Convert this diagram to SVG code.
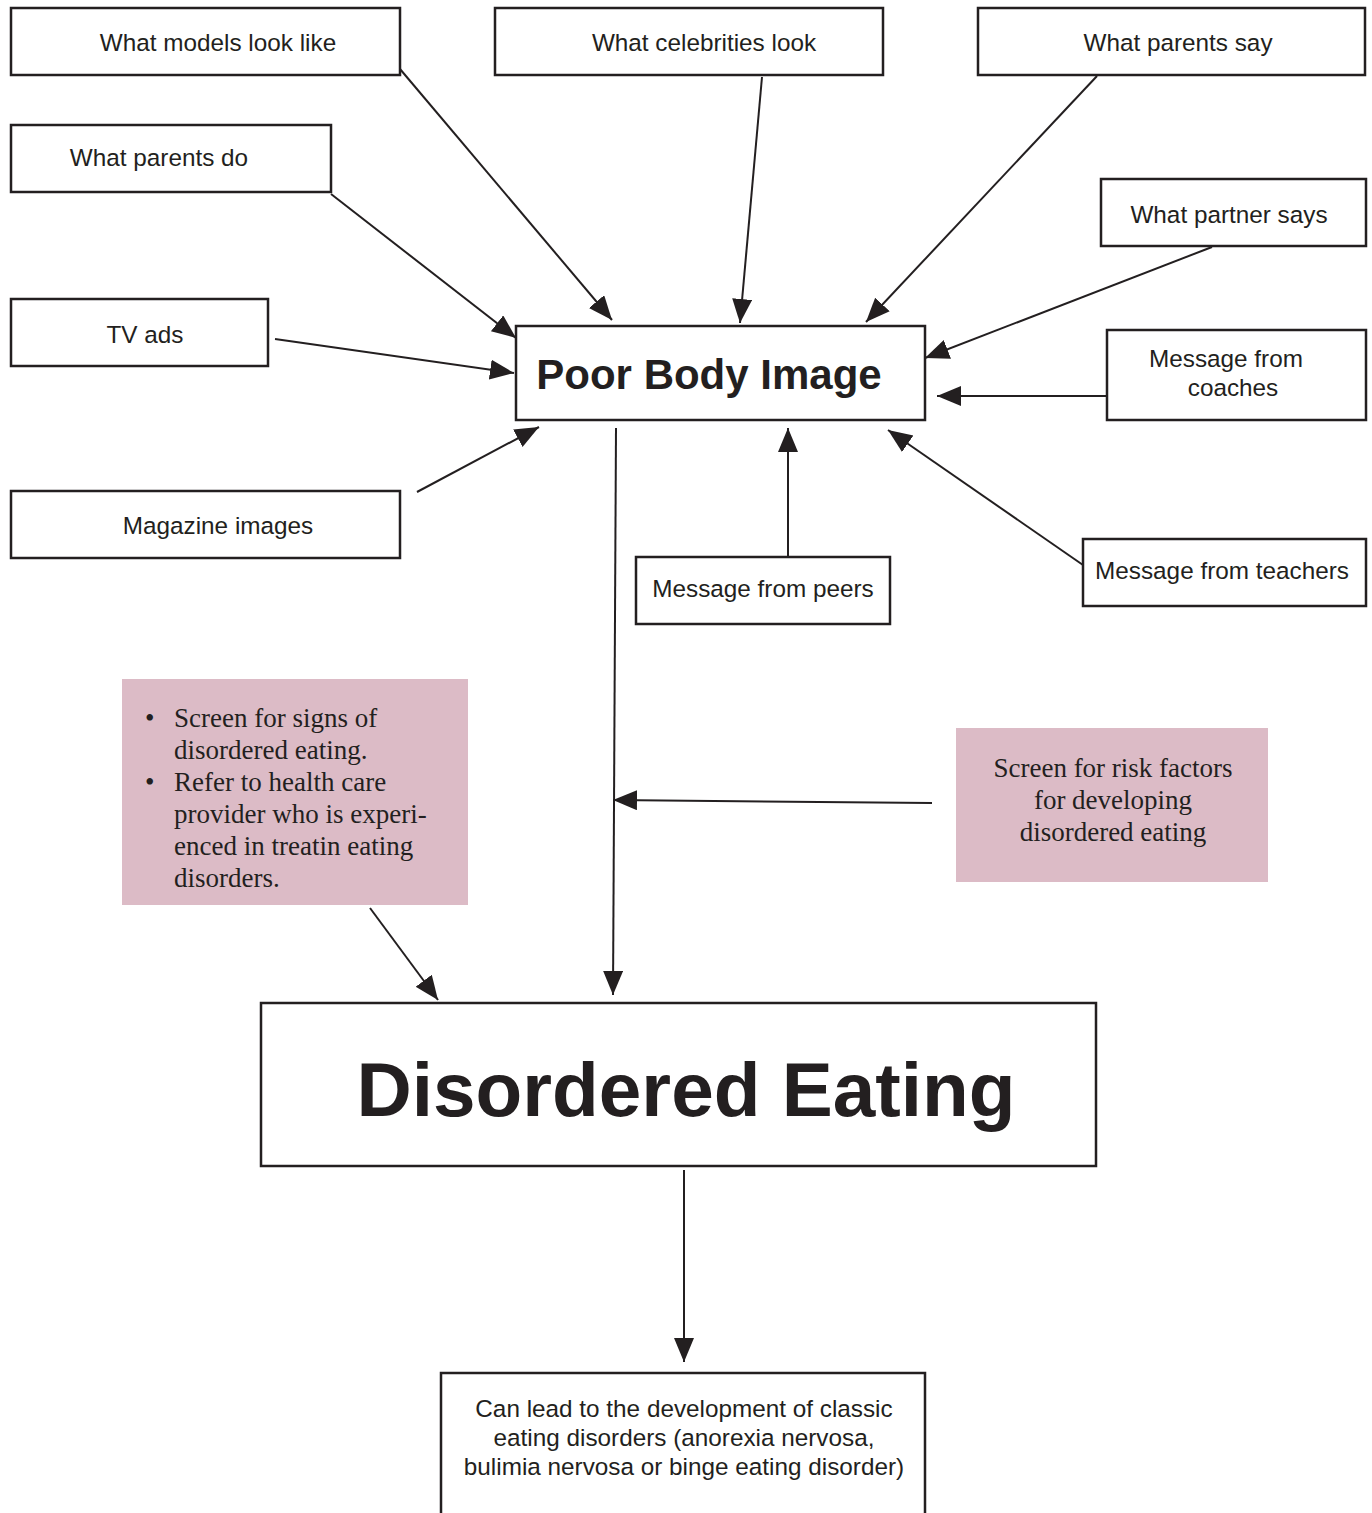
<svg xmlns="http://www.w3.org/2000/svg" width="1372" height="1513" viewBox="0 0 1372 1513">
<style>
.box{fill:#fff;stroke:#231f20;stroke-width:2.5}
.pink{fill:#dcbbc6}
.lbl{font-family:"Liberation Sans",Arial,sans-serif;font-size:24.3px;fill:#231f20;text-anchor:middle}
.ser{font-family:"Liberation Serif","Times New Roman",serif;font-size:27px;fill:#231f20}
.con{stroke:#231f20;stroke-width:2;fill:none;marker-end:url(#ah)}
</style>
<defs>
<marker id="ah" markerUnits="userSpaceOnUse" markerWidth="26" markerHeight="22" refX="24" refY="10" orient="auto">
<path d="M0,0 L24,10 L0,20 z" fill="#231f20"/>
</marker>
</defs>
<rect width="1372" height="1513" fill="#fff"/>
<g id="connectors">
<line class="con" x1="400" y1="69" x2="612" y2="320"/>
<line class="con" x1="762" y1="77" x2="740" y2="323"/>
<line class="con" x1="1097" y1="76" x2="866" y2="322"/>
<line class="con" x1="331" y1="194" x2="516" y2="338"/>
<line class="con" x1="1212" y1="247" x2="925" y2="358"/>
<line class="con" x1="275" y1="339" x2="514" y2="373"/>
<line class="con" x1="1107" y1="396" x2="937" y2="396"/>
<line class="con" x1="417" y1="492" x2="539" y2="427"/>
<line class="con" x1="788" y1="557" x2="788" y2="428"/>
<line class="con" x1="1083" y1="565" x2="888" y2="430"/>
<line class="con" x1="616" y1="428" x2="613" y2="995"/>
<line class="con" x1="932" y1="803" x2="613" y2="800"/>
<line class="con" x1="370" y1="908" x2="438" y2="1000"/>
<line class="con" x1="684" y1="1170" x2="684" y2="1362"/>
</g>
<g id="n-models"><rect class="box" x="11" y="8" width="389" height="67"/><text class="lbl" x="218" y="51">What models look like</text></g>
<g id="n-celebs"><rect class="box" x="495" y="8" width="388" height="67"/><text class="lbl" x="704" y="51">What celebrities look</text></g>
<g id="n-psay"><rect class="box" x="978" y="8" width="387" height="67"/><text class="lbl" x="1178" y="51">What parents say</text></g>
<g id="n-pdo"><rect class="box" x="11" y="125" width="320" height="67"/><text class="lbl" x="159" y="166">What parents do</text></g>
<g id="n-partner"><rect class="box" x="1101" y="179" width="265" height="67"/><text class="lbl" x="1229" y="223">What partner says</text></g>
<g id="n-tv"><rect class="box" x="11" y="299" width="257" height="67"/><text class="lbl" x="145" y="343">TV ads</text></g>
<g id="n-coaches"><rect class="box" x="1107" y="330" width="259" height="90"/><text class="lbl" x="1226" y="367">Message from</text><text class="lbl" x="1233" y="396">coaches</text></g>
<g id="n-pbi"><rect class="box" x="516" y="326" width="409" height="94"/><text x="709" y="389" font-family="Liberation Sans,Arial,sans-serif" font-weight="bold" font-size="42" fill="#231f20" text-anchor="middle">Poor Body Image</text></g>
<g id="n-mag"><rect class="box" x="11" y="491" width="389" height="67"/><text class="lbl" x="218" y="534">Magazine images</text></g>
<g id="n-peers"><rect class="box" x="636" y="557" width="254" height="67"/><text class="lbl" x="763" y="597">Message from peers</text></g>
<g id="n-teachers"><rect class="box" x="1083" y="539" width="283" height="67"/><text class="lbl" x="1222" y="579">Message from teachers</text></g>
<g id="n-screen-signs"><rect class="pink" x="122" y="679" width="346" height="226"/>
<text class="ser"><tspan x="145" y="727">•</tspan><tspan x="174" y="727">Screen for signs of</tspan><tspan x="174" y="759">disordered eating.</tspan><tspan x="145" y="791">•</tspan><tspan x="174" y="791">Refer to health care</tspan><tspan x="174" y="823">provider who is experi-</tspan><tspan x="174" y="855">enced in treatin eating</tspan><tspan x="174" y="887">disorders.</tspan></text></g>
<g id="n-screen-risk"><rect class="pink" x="956" y="728" width="312" height="154"/>
<text class="ser" text-anchor="middle"><tspan x="1113" y="777">Screen for risk factors</tspan><tspan x="1113" y="809">for developing</tspan><tspan x="1113" y="841">disordered eating</tspan></text></g>
<g id="n-de"><rect class="box" x="261" y="1003" width="835" height="163"/><text x="686" y="1116" font-family="Liberation Sans,Arial,sans-serif" font-weight="bold" font-size="76.5" fill="#231f20" text-anchor="middle">Disordered Eating</text></g>
<g id="n-lead"><path d="M441,1513 V1373 H925 V1513" fill="#fff" stroke="#231f20" stroke-width="2.5"/>
<text class="lbl"><tspan x="684" y="1417">Can lead to the development of classic</tspan><tspan x="684" y="1446">eating disorders (anorexia nervosa,</tspan><tspan x="684" y="1475">bulimia nervosa or binge eating disorder)</tspan></text></g>
</svg>
